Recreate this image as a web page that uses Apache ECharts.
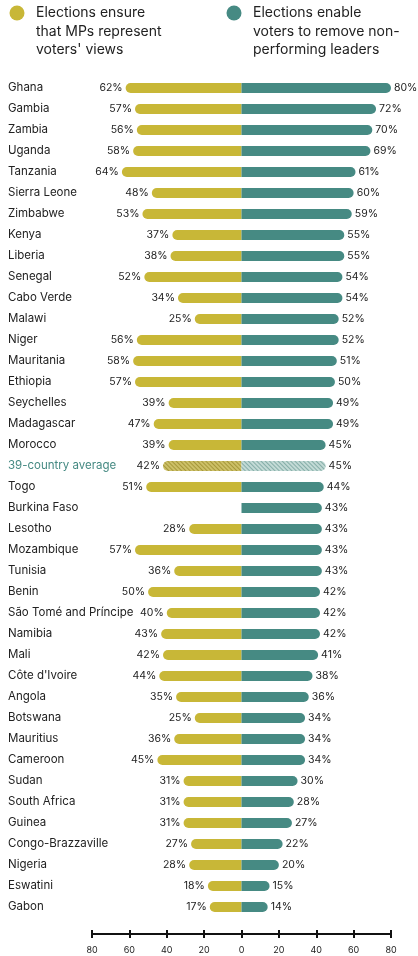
<!DOCTYPE html>
<html>
<head>
<meta charset="utf-8">
<script src="https://cdn.jsdelivr.net/npm/echarts@6/dist/echarts.min.js"></script>
<style>
  html, body { margin: 0; padding: 0; background: #fff; }
  #chart { width: 418px; height: 956px; }
</style>
</head>
<body>
<div id="chart"></div>
<script>
var countries = ["Ghana", "Gambia", "Zambia", "Uganda", "Tanzania", "Sierra Leone", "Zimbabwe", "Kenya", "Liberia", "Senegal",
  "Cabo Verde", "Malawi", "Niger", "Mauritania", "Ethiopia", "Seychelles", "Madagascar", "Morocco", "39-country average", "Togo",
  "Burkina Faso", "Lesotho", "Mozambique", "Tunisia", "Benin", "São Tomé and Príncipe", "Namibia", "Mali", "Côte d'Ivoire", "Angola",
  "Botswana", "Mauritius", "Cameroon", "Sudan", "South Africa", "Guinea", "Congo-Brazzaville", "Nigeria", "Eswatini", "Gabon"];
// Elections ensure that MPs represent voters' views (%)
var represent = [62, 57, 56, 58, 64, 48, 53, 37, 38, 52,
  34, 25, 56, 58, 57, 39, 47, 39, 42, 51,
  null, 28, 57, 36, 50, 40, 43, 42, 44, 35,
  25, 36, 45, 31, 31, 31, 27, 28, 18, 17];
// Elections enable voters to remove non-performing leaders (%)
var remove = [80, 72, 70, 69, 61, 60, 59, 55, 55, 54,
  54, 52, 52, 51, 50, 49, 49, 45, 45, 44,
  43, 43, 43, 43, 42, 42, 42, 41, 38, 36,
  34, 34, 34, 30, 28, 27, 22, 20, 15, 14];
var axisTicks = [-80, -60, -40, -20, 0, 20, 40, 60, 80];

var yellow = "#c8b737";
var teal = "#468a83";
var avgName = "39-country average";
var font = "Inter, 'Noto Sans', sans-serif";

var chart = echarts.init(document.getElementById("chart"));

var catData = countries.map(function (c) {
  if (c === avgName) return { value: c, textStyle: { color: teal, align: "left" } };
  return c;
});

var leftData = represent.map(function (v, i) {
  if (v === null) return null;
  var item = { value: -v };
  if (countries[i] === avgName) {
    item.itemStyle = {
      color: "#cdc068",
      decal: { symbol: "rect", symbolSize: 1, dashArrayX: [1, 0], dashArrayY: [1, 2], rotation: Math.PI / 4, color: "#a6983a" }
    };
  }
  return item;
});
var rightData = remove.map(function (v, i) {
  var item = { value: v };
  if (countries[i] === avgName) {
    item.itemStyle = {
      color: "#c3dad6",
      decal: { symbol: "rect", symbolSize: 1, dashArrayX: [1, 0], dashArrayY: [1, 2], rotation: Math.PI / 4, color: "#85aea8" }
    };
  }
  return item;
});

var legendText = { fontFamily: font, fontSize: 14, fill: "#222", lineHeight: 18.5 };

chart.setOption({
  animation: false,
  textStyle: { fontFamily: font },
  graphic: [
    { type: "circle", shape: { cx: 17, cy: 13, r: 7.5 }, style: { fill: yellow } },
    { type: "text", left: 36, top: 4, style: Object.assign({ text: "Elections ensure\nthat MPs represent\nvoters' views" }, legendText) },
    { type: "circle", shape: { cx: 234, cy: 13, r: 7.5 }, style: { fill: teal } },
    { type: "text", left: 253, top: 4, style: Object.assign({ text: "Elections enable\nvoters to remove non-\nperforming leaders" }, legendText) }
  ],
  grid: { left: 92, right: 27, top: 77.5, bottom: 38.5, containLabel: false, outerBoundsMode: "none" },
  xAxis: [{
    type: "value", min: -80, max: 80, interval: 20, position: "bottom", offset: 16.5,
    splitLine: { show: false },
    axisLine: { show: true, lineStyle: { color: "#111", width: 2 } },
    axisTick: { show: true, length: 4, lineStyle: { color: "#111", width: 2 } },
    axisLabel: {
      margin: 12, fontSize: 9, color: "#222",
      formatter: function (v) { return axisTicks.indexOf(v) >= 0 ? String(Math.abs(v)) : ""; }
    }
  }, {
    type: "value", min: -80, max: 80, interval: 20, position: "bottom", offset: 16.5,
    splitLine: { show: false },
    axisLine: { show: false },
    axisTick: { show: true, inside: true, length: 4, lineStyle: { color: "#111", width: 2 } },
    axisLabel: { show: false }
  }],
  yAxis: {
    type: "category", inverse: true, data: catData,
    axisLine: { show: false }, axisTick: { show: false },
    axisLabel: { align: "left", margin: 84, fontSize: 11.5, color: "#222" }
  },
  series: [{
    name: "Elections ensure that MPs represent voters' views",
    type: "bar", xAxisIndex: 0, barWidth: 10, barGap: "-100%",
    data: leftData,
    itemStyle: { color: yellow, borderRadius: [5, 0, 0, 5] },
    label: {
      show: true, position: "left", distance: 3, fontSize: 10.5, color: "#222",
      formatter: function (p) { return Math.abs(p.value) + "%"; }
    }
  }, {
    name: "Elections enable voters to remove non-performing leaders",
    type: "bar", xAxisIndex: 0, barWidth: 10, barGap: "-100%",
    data: rightData,
    itemStyle: { color: teal, borderRadius: [0, 5, 5, 0] },
    label: {
      show: true, position: "right", distance: 3, fontSize: 10.5, color: "#222",
      formatter: function (p) { return p.value + "%"; }
    }
  }]
});
</script>
</body>
</html>
